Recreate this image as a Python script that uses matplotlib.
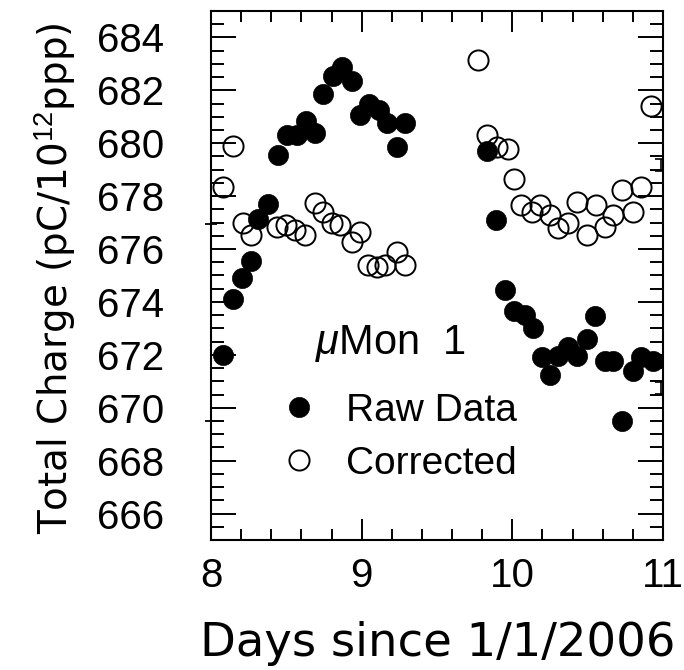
import matplotlib
matplotlib.use("Agg")
import matplotlib.pyplot as plt
from matplotlib.ticker import AutoMinorLocator

# ---- data ----
raw_x = [8.082, 8.148, 8.204, 8.265, 8.314, 8.380, 8.447, 8.506, 8.569, 8.630,
         8.690, 8.745, 8.807, 8.867, 8.934, 8.989, 9.050, 9.117, 9.166, 9.232,
         9.287, 9.830, 9.890, 9.950, 10.010, 10.084, 10.135, 10.194, 10.250,
         10.305, 10.367, 10.427, 10.493, 10.548, 10.614, 10.670, 10.730, 10.798,
         10.857, 10.935]
raw_y = [672.0, 674.1, 674.9, 675.55, 677.15, 677.7, 679.55, 680.3, 680.3, 680.85,
         680.4, 681.85, 682.55, 682.9, 682.35, 681.05, 681.5, 681.25, 680.75, 679.85,
         680.75, 679.7, 677.1, 674.45, 673.65, 673.5, 673.0, 671.9, 671.25,
         671.95, 672.3, 671.95, 672.6, 673.45, 671.75, 671.75, 669.5, 671.4,
         671.9, 671.75]

corr_x = [8.082, 8.148, 8.210, 8.265, 8.440, 8.500, 8.557, 8.624, 8.690, 8.745,
          8.800, 8.856, 8.934, 8.989, 9.040, 9.100, 9.155, 9.232, 9.287, 9.774,
          9.830, 9.896, 9.973, 10.010, 10.060, 10.128, 10.183, 10.250, 10.305,
          10.370, 10.427, 10.493, 10.555, 10.614, 10.670, 10.730, 10.798, 10.853,
          10.918]
corr_y = [678.35, 679.9, 676.97, 676.53, 676.84, 676.9, 676.72, 676.55, 677.75, 677.4,
          676.97, 676.9, 676.28, 676.66, 675.4, 675.34, 675.4, 675.9, 675.4, 683.16,
          680.32, 679.86, 679.8, 678.66, 677.66, 677.4, 677.66, 677.28, 676.78,
          676.97, 677.79, 676.53, 677.66, 676.84, 677.28, 678.23, 677.4, 678.35,
          681.4]

# small error-bar stubs sitting on the frame
edge_left_x = [8.0, 8.0]
edge_left_y = [676.96, 669.5]
edge_right_x = [10.985, 10.985]
edge_right_y = [679.18, 670.74]

xticks = [8, 9, 10, 11]
yticks = [666, 668, 670, 672, 674, 676, 678, 680, 682, 684]

# ---- figure ----
plt.rcParams['mathtext.fontset'] = 'custom'
plt.rcParams['mathtext.rm'] = 'Liberation Sans'
plt.rcParams['mathtext.it'] = 'Liberation Sans:italic'
plt.rcParams['font.family'] = ['Liberation Sans', 'DejaVu Sans']

W, H = 684, 670
fig = plt.figure(figsize=(W / 100, H / 100), dpi=100)
ax = fig.add_axes([211 / W, 1 - 540 / H, (663 - 211) / W, (540 - 11) / H])

ax.plot(corr_x, corr_y, linestyle='none', marker='o', ms=14.5, mfc='none',
        mec='black', mew=1.4, label='Corrected', zorder=3)
ax.plot(raw_x, raw_y, linestyle='none', marker='o', ms=14.5, mfc='black',
        mec='black', mew=0.5, label='Raw Data', zorder=4)

ax.plot(edge_left_x, edge_left_y, linestyle='none', marker='+', ms=9, mew=1.3,
        color='black', clip_on=False, zorder=5)
ax.errorbar(edge_right_x, edge_right_y, yerr=0.22, fmt='none', ecolor='black',
            elinewidth=1.2, capsize=4, capthick=1.2, zorder=5)

ax.set_xlim(8, 11)
ax.set_ylim(665, 685)
ax.set_xticks(xticks)
ax.set_yticks(yticks)
ax.xaxis.set_minor_locator(AutoMinorLocator(5))
ax.yaxis.set_minor_locator(AutoMinorLocator(4))

for s in ax.spines.values():
    s.set_linewidth(1.5)

ax.tick_params(axis='both', which='both', direction='in', top=True, right=True,
               width=1.4, colors='black')
ax.tick_params(axis='x', which='major', length=15, pad=12, labelsize=29)
ax.tick_params(axis='x', which='minor', length=8)
ax.tick_params(axis='y', which='major', length=18, pad=34, labelsize=29)
ax.tick_params(axis='y', which='minor', length=9.5)

# axis titles
fig.text(55 / W, 1 - 278 / H, 'Total Charge (pC/10$^{12}$ppp)', rotation=90,
         ha='center', va='center', fontsize=28, family='DejaVu Sans')
fig.text(438 / W, 1 - 643 / H, 'Days since 1/1/2006', ha='center', va='center',
         fontsize=33.5, family='DejaVu Sans')

# legend
ax.text(0.230, 0.372, r'$\mu$Mon  1', transform=ax.transAxes, ha='left',
        va='center', fontsize=30)
h, l = ax.get_legend_handles_labels()
leg = ax.legend(h[::-1], l[::-1], loc='upper left', bbox_to_anchor=(0.152, 0.278),
                frameon=False, fontsize=28, handlelength=1.0, handletextpad=0.7,
                labelspacing=0.43, borderpad=0.0, borderaxespad=0.0)

fig.savefig('out.png', dpi=100)
